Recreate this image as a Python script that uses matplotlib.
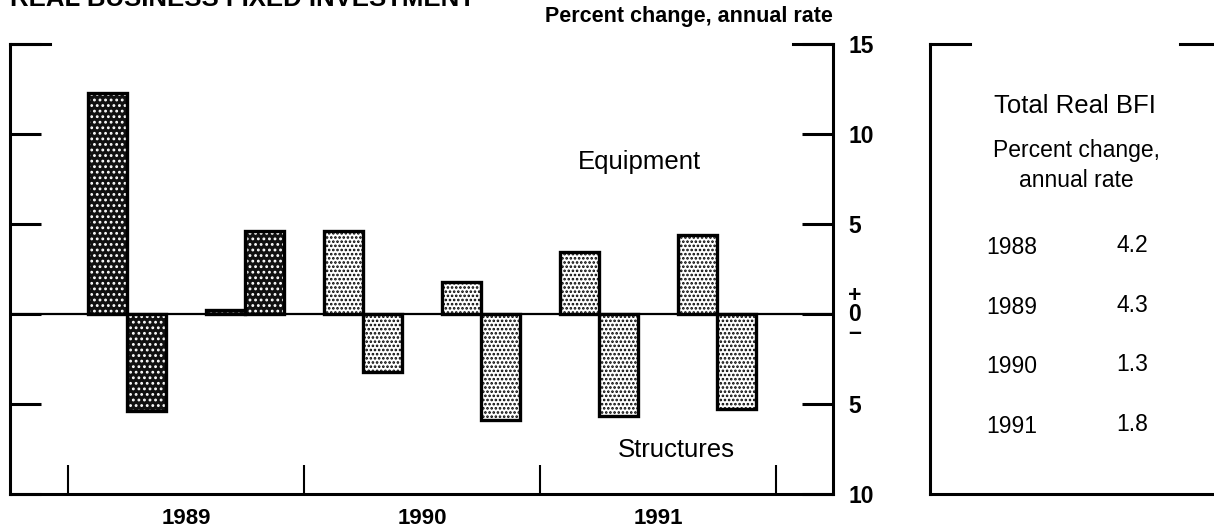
import matplotlib
matplotlib.use("Agg")
import matplotlib.pyplot as plt

plt.rcParams['font.family'] = ['Liberation Sans', 'DejaVu Sans']
plt.rcParams['hatch.linewidth'] = 1.25

# half-year periods, 1989 H1 .. 1991 H2
period_years = [1989, 1989, 1990, 1990, 1991, 1991]
equipment = [12.3, 0.2, 4.6, 1.8, 3.45, 4.4]
structures = [-5.4, 4.6, -3.2, -5.9, -5.65, -5.3]
year_labels = ['1989', '1990', '1991']

ytick_vals = [-10, -5, 0, 5, 10, 15]
ytick_labels = ['10', '5', '+\n0\n\u2013', '5', '10', '15']

table_years = ['1988', '1989', '1990', '1991']
table_values = ['4.2', '4.3', '1.3', '1.8']

W, H = 1214, 531
fig = plt.figure(figsize=(W / 100, H / 100), dpi=100)

ax = fig.add_axes([10 / W, 37 / H, 823 / W, 450 / H])
ax.set_xlim(-0.49, 6.48)
ax.set_ylim(-10, 15)

bw = 0.33
for i, (eq, st) in enumerate(zip(equipment, structures)):
    c = i + 0.5
    dark = period_years[i] == 1989
    for x, v in [(c - bw / 2, eq), (c + bw / 2, st)]:
        if dark:
            ax.bar(x, v, bw, color='#111111', edgecolor='white', hatch='...', linewidth=0, zorder=2)
        else:
            ax.bar(x, v, bw, color='white', edgecolor='black', hatch='....', linewidth=0, zorder=2)
        ax.bar(x, v, bw, fill=False, edgecolor='black', linewidth=2.4, zorder=3)

ax.axhline(0, color='black', linewidth=1.6, zorder=1)

for s in ['left', 'right', 'bottom']:
    ax.spines[s].set_linewidth(2.2)
ax.spines['top'].set_visible(False)
ax.plot([0, 0.049], [1, 1], color='black', lw=2.2, transform=ax.transAxes, clip_on=False, solid_capstyle='projecting')
ax.plot([0.951, 1], [1, 1], color='black', lw=2.2, transform=ax.transAxes, clip_on=False, solid_capstyle='projecting')

ax.set_yticks(ytick_vals)
ax.set_yticklabels(ytick_labels)
ax.tick_params(axis='y', which='major', direction='in', length=22, width=2.2,
               left=True, right=True, labelleft=False, labelright=True, pad=11,
               labelsize=16.5)
for lab in ax.get_yticklabels():
    lab.set_fontweight('bold')
    if '0\n' in lab.get_text():
        lab.set_multialignment('center')
        lab.set_linespacing(0.75)

ax.set_xticks([0, 2, 4, 6])
ax.set_xticklabels([])
ax.set_xticks([1, 3, 5], minor=True)
ax.set_xticklabels(year_labels, minor=True)
ax.tick_params(axis='x', which='major', direction='in', length=21, width=1.5)
ax.tick_params(axis='x', which='minor', length=0, pad=10, labelsize=16)
for lab in ax.get_xticklabels(minor=True):
    lab.set_fontweight('bold')

ax.text(4.84, 8.45, 'Equipment', ha='center', va='center', fontsize=18.5)
ax.text(5.15, -7.55, 'Structures', ha='center', va='center', fontsize=18.5)

fig.text(833 / W, 1 - 22 / H, 'Percent change, annual rate', ha='right', va='baseline',
         fontsize=15.5, fontweight='bold')
fig.text(10 / W, 1 - 6 / H, 'REAL BUSINESS FIXED INVESTMENT', ha='left', va='baseline',
         fontsize=18.5, fontweight='bold')

# right panel
ax2 = fig.add_axes([930 / W, 37 / H, 300 / W, 450 / H])
ax2.set_xlim(0, 1)
ax2.set_ylim(0, 1)
ax2.set_xticks([])
ax2.set_yticks([])
ax2.spines['top'].set_visible(False)
ax2.spines['right'].set_visible(False)
ax2.spines['left'].set_linewidth(2.2)
ax2.spines['bottom'].set_linewidth(2.2)
ax2.plot([0, 0.133], [1, 1], color='black', lw=2.2, clip_on=False, solid_capstyle='projecting')
ax2.plot([0.833, 1], [1, 1], color='black', lw=2.2, clip_on=False)

ax2.text(0.483, 0.847, 'Total Real BFI', ha='center', va='baseline', fontsize=18.5)
ax2.text(0.487, 0.749, 'Percent change,', ha='center', va='baseline', fontsize=16.5)
ax2.text(0.487, 0.682, 'annual rate', ha='center', va='baseline', fontsize=16.5)

for i, (yr, val) in enumerate(zip(table_years, table_values)):
    yy = 0.533 - i * 0.1323
    ax2.text(0.273, yy, yr, ha='center', va='baseline', fontsize=16.5)
    ax2.text(0.673, yy + 0.004, val, ha='center', va='baseline', fontsize=16.5)

fig.savefig('out.png', dpi=100)
